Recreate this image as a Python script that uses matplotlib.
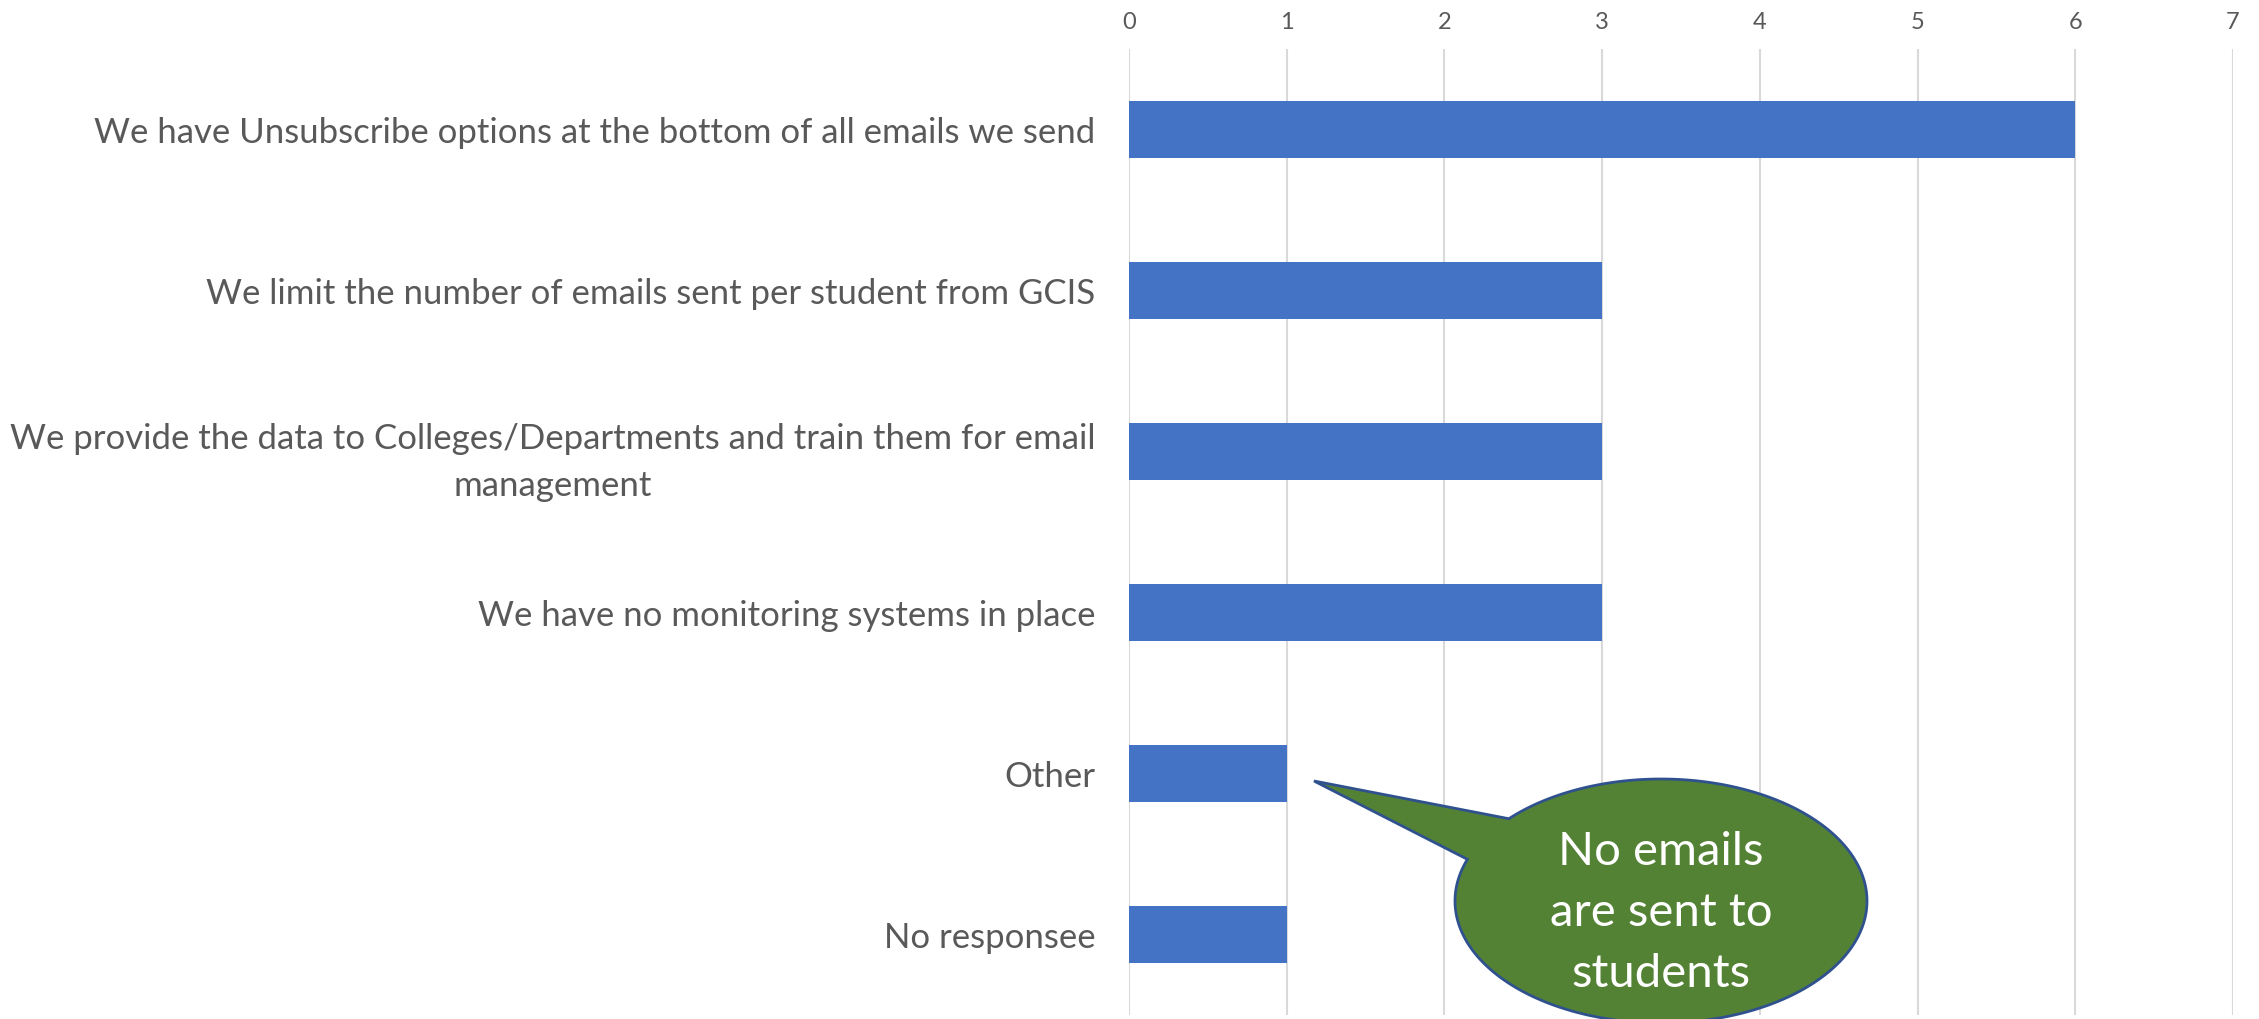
import numpy as np
import matplotlib.pyplot as plt
from matplotlib.patches import Polygon

plt.rcParams['font.family'] = ['Lato', 'DejaVu Sans']

categories = ['We have Unsubscribe options at the bottom of all emails we send',
              'We limit the number of emails sent per student from GCIS',
              'We provide the data to Colleges/Departments and train them for email\nmanagement',
              'We have no monitoring systems in place',
              'Other',
              'No responsee']
counts = [6, 3, 3, 3, 1, 1]
x_ticks = [0, 1, 2, 3, 4, 5, 6, 7]
callout_text = 'No emails\nare sent to\nstudents'

bar_col = '#4472C4'
grey = '#595959'

fig = plt.figure(figsize=(22.59, 10.2), dpi=100)
ax = fig.add_axes([0.4998, 0.004, 0.4887, 0.947])

y = np.arange(len(categories))
ax.barh(y, counts, height=0.35, color=bar_col, zorder=3)
ax.set_ylim(len(categories) - 0.5, -0.5)
ax.set_xlim(0, 7)
ax.set_xticks(x_ticks)
ax.xaxis.tick_top()
ax.tick_params(axis='x', length=0, labelsize=17, labelcolor=grey, pad=12)
ax.set_yticks(y)
ax.set_yticklabels(categories, fontsize=25, color=grey, multialignment='center',
                   linespacing=1.55)
ax.tick_params(axis='y', length=0, pad=24)
ax.grid(axis='x', color='#D9D9D9', lw=1.5, zorder=0)
for s in ax.spines.values():
    s.set_visible(False)

# speech-bubble callout, drawn in figure pixel space
ov = fig.add_axes([0, 0, 1, 1], zorder=5)
ov.set_xlim(0, 2259)
ov.set_ylim(1020, 0)
ov.axis('off')
cx, cy, a, b = 1661, 902, 206, 122
tip = (1314, 782)
p1 = (1502, 816)
p2 = (1466, 860)
t1 = np.arctan2((p1[1] - cy) / b, (p1[0] - cx) / a)
t2 = np.arctan2((p2[1] - cy) / b, (p2[0] - cx) / a)
if t2 < t1:
    t2 += 2 * np.pi
th = np.linspace(t1, t2, 300)
pts = [(cx + a * np.cos(t), cy + b * np.sin(t)) for t in th]
pts.append(tip)
ov.add_patch(Polygon(pts, closed=True, facecolor='#548235', edgecolor='#2F528F',
                     lw=2, joinstyle='miter'))
ov.text(cx, 913, callout_text, color='white', fontsize=34, ha='center', va='center',
        linespacing=1.55)

fig.savefig('out.png', dpi=100)
